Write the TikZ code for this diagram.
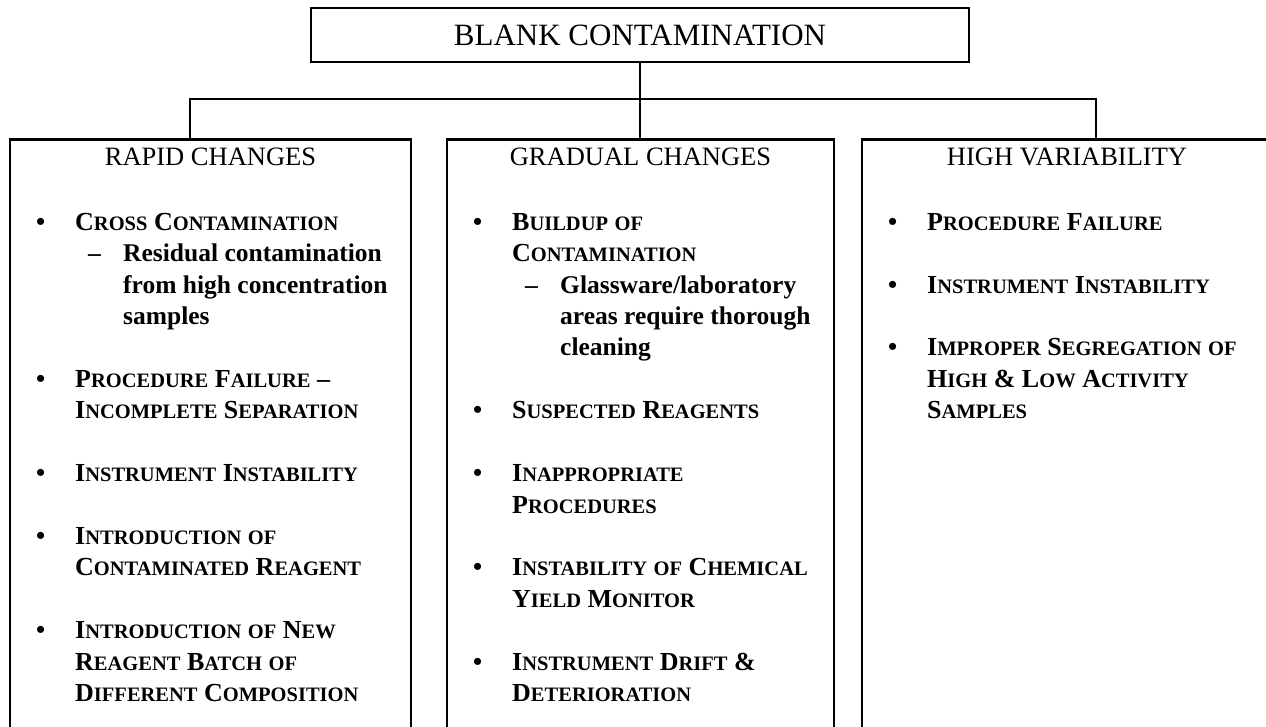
\documentclass[tikz,border=0pt]{standalone}
\usepackage{fontspec}
\setmainfont{Liberation Serif}
\usetikzlibrary{positioning}

% fake small caps: first letter full size, the rest smaller
\newcommand\scsize{\fontsize{20.5}{22}\selectfont}
\def\scwi#1#2\relax{#1{\scsize\uppercase{#2}}}
\newcommand\scw[1]{\scwi#1\relax}
\newcommand\scl[1]{{\scsize\uppercase{#1}}}

\tikzset{
  wire/.style={line width=2.6pt},
  colbox/.style={draw, line width=2.6pt, minimum height=700pt, anchor=north, inner sep=0pt},
  head/.style={font=\fontsize{26.5}{29}\selectfont, anchor=base, inner sep=0pt},
  itemtext/.style={font=\fontsize{26}{29}\selectfont\bfseries, anchor=base west, inner sep=0pt},
  subtext/.style={font=\fontsize{25.5}{28}\selectfont\bfseries, anchor=base west, inner sep=0pt},
  dot/.style={font=\fontsize{26}{29}\selectfont\bfseries, anchor=base west, inner sep=0pt}
}

% one column of lines on a grid of rows;
% kind: 0 bullet line, 1 continuation, 2 dash line, 3 dash continuation
\newcommand\listlines[3]{%
  \foreach \r/\k/\t [count=\i] in #3
  {
    \pgfmathsetmacro\y{221.7+31.43*\r+8.5}
    \ifnum\k<2
      \node[itemtext] (#1-\i) at (#2+65,\y) {\t};
    \else
      \node[subtext] (#1-\i) at (#2+113,\y) {\t};
    \fi
    \ifnum\k=0 \node[dot] (#1-dot-\i) at (#2+26,\y) {\textbullet}; \fi
    \ifnum\k=2 \node[subtext] (#1-dash-\i) at (#2+78,\y) {--}; \fi
  }%
}

\begin{document}
\begin{tikzpicture}[x=1pt,y=-1pt]

      \useasboundingbox (0,0) rectangle (1266,726);
      \clip (0,0) rectangle (1266,726);

      \def\rapidlines{
        0/0/{\scw{Cross} \scw{Contamination}},
        1/2/{Residual contamination},
        2/3/{from high concentration},
        3/3/{samples},
        5/0/{\scw{Procedure} \scw{Failure} --},
        6/1/{\scw{Incomplete} \scw{Separation}},
        8/0/{\scw{Instrument} \scw{Instability}},
        10/0/{\scw{Introduction} \scl{of}},
        11/1/{\scw{Contaminated} \scw{Reagent}},
        13/0/{\scw{Introduction} \scl{of} \scw{New}},
        14/1/{\scw{Reagent} \scw{Batch} \scl{of}},
        15/1/{\scw{Different} \scw{Composition}}
      }
      \def\graduallines{
        0/0/{\scw{Buildup} \scl{of}},
        1/1/{\scw{Contamination}},
        2/2/{Glassware/laboratory},
        3/3/{areas require thorough},
        4/3/{cleaning},
        6/0/{\scw{Suspected} \scw{Reagents}},
        8/0/{\scw{Inappropriate}},
        9/1/{\scw{Procedures}},
        11/0/{\scw{Instability} \scl{of} \scw{Chemical}},
        12/1/{\scw{Yield} \scw{Monitor}},
        14/0/{\scw{Instrument} \scw{Drift} \&},
        15/1/{\scw{Deterioration}}
      }
      \def\highvarlines{
        0/0/{\scw{Procedure} \scw{Failure}},
        2/0/{\scw{Instrument} \scw{Instability}},
        4/0/{\scw{Improper} \scw{Segregation} \scl{of}},
        5/1/{\scw{High} \& \scw{Low} \scw{Activity}},
        6/1/{\scw{Samples}}
      }

      % top box
      \node[draw, line width=2.6pt, minimum width=658pt, minimum height=54pt,
        font=\fontsize{31}{34}\selectfont] (blank) at (640,35) {BLANK CONTAMINATION};

      % the three column boxes (open at the bottom)
      \node[colbox, minimum width=401pt] (rapid) at (210.5,138) {};
      \node[colbox, minimum width=387pt] (gradual) at (640.5,138) {};
      \node[colbox, minimum width=410pt] (highvar) at (1067,138) {};

      \node[head] (rapid-head) at ([yshift=-27pt]rapid.north) {RAPID CHANGES};
      \node[head] (gradual-head) at ([yshift=-27pt]gradual.north) {GRADUAL CHANGES};
      \node[head] (highvar-head) at ([yshift=-27pt]highvar.north) {HIGH VARIABILITY};

      % connectors
      \coordinate (busL) at (190,99);
      \coordinate (busR) at (1096,99);
      \draw[wire] (blank.south) -- (blank.south |- gradual.north);
      \draw[wire] (busL |- rapid.north) -- (busL) -- (busR) -- (busR |- highvar.north);

      % the bullet lists
      \listlines{rapid}{10}{\rapidlines}
      \listlines{gradual}{447}{\graduallines}
      \listlines{highvar}{862}{\highvarlines}

\end{tikzpicture}
\end{document}
